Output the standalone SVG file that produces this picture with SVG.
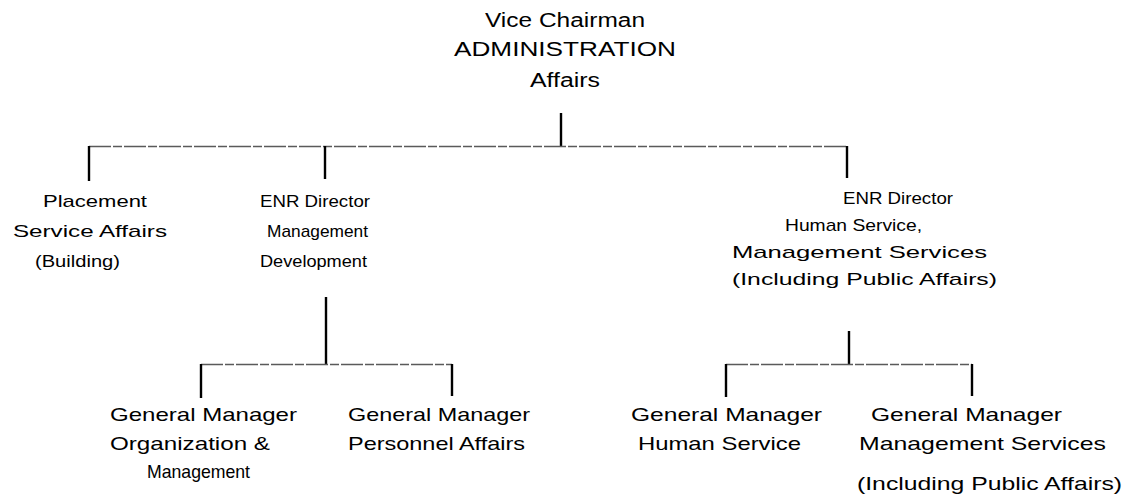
<svg xmlns="http://www.w3.org/2000/svg" width="1130" height="504" viewBox="0 0 1130 504">
  <style>
    text { font-family: "Liberation Sans", Arial, sans-serif; fill: #000; }
    .t0 { font-size: 20px; text-anchor: middle; }
    .t1 { font-size: 17px; }
    .t2 { font-size: 18.5px; }
    .h { stroke: #5a5a5a; stroke-width: 1.3; fill: none; stroke-dasharray: 22 2 9 2; }
    .v { stroke: #000; stroke-width: 2.4; fill: none; }
  </style>
  <rect width="1130" height="504" fill="#fff"/>

  <g id="connectors">
    <!-- from the Vice Chairman down to the three divisions -->
    <line class="v" x1="561" y1="113" x2="561" y2="146"/>
    <line class="h" x1="89" y1="146.5" x2="847" y2="146.5"/>
    <line class="v" x1="89" y1="146" x2="89" y2="181"/>
    <line class="v" x1="325" y1="146" x2="325" y2="179"/>
    <line class="v" x1="847" y1="146" x2="847" y2="178"/>
    <!-- Management Development branch -->
    <line class="v" x1="326" y1="297" x2="326" y2="365"/>
    <line class="h" x1="201" y1="364.5" x2="452" y2="364.5"/>
    <line class="v" x1="201" y1="364" x2="201" y2="398"/>
    <line class="v" x1="452" y1="364" x2="452" y2="396"/>
    <!-- Human Service / Management Services branch -->
    <line class="v" x1="849" y1="331" x2="849" y2="365"/>
    <line class="h" x1="726" y1="364.5" x2="972" y2="364.5"/>
    <line class="v" x1="726" y1="364" x2="726" y2="397"/>
    <line class="v" x1="972" y1="364" x2="972" y2="396"/>
  </g>

  <g id="vice-chairman">
    <text class="t0" x="565" y="27" textLength="160" lengthAdjust="spacingAndGlyphs">Vice Chairman</text>
    <text class="t0" x="565" y="56" textLength="222" lengthAdjust="spacingAndGlyphs">ADMINISTRATION</text>
    <text class="t0" x="565" y="87" textLength="70" lengthAdjust="spacingAndGlyphs">Affairs</text>
  </g>

  <g id="placement-service">
    <text class="t1" x="43" y="207" textLength="104" lengthAdjust="spacingAndGlyphs">Placement</text>
    <text class="t1" x="13" y="237" textLength="154" lengthAdjust="spacingAndGlyphs">Service Affairs</text>
    <text class="t1" x="35" y="267" textLength="85" lengthAdjust="spacingAndGlyphs">(Building)</text>
  </g>

  <g id="enr-management-development">
    <text class="t1" x="260" y="207" textLength="110" lengthAdjust="spacingAndGlyphs">ENR Director</text>
    <text class="t1" x="267" y="237" textLength="101" lengthAdjust="spacingAndGlyphs">Management</text>
    <text class="t1" x="260" y="267" textLength="107" lengthAdjust="spacingAndGlyphs">Development</text>
  </g>

  <g id="enr-human-management-services">
    <text class="t1" x="843" y="204" textLength="110" lengthAdjust="spacingAndGlyphs">ENR Director</text>
    <text class="t1" x="785" y="231" textLength="137" lengthAdjust="spacingAndGlyphs">Human Service,</text>
    <text class="t1" x="732" y="258" textLength="255" lengthAdjust="spacingAndGlyphs">Management Services</text>
    <text class="t1" x="732" y="285" textLength="265" lengthAdjust="spacingAndGlyphs">(Including Public Affairs)</text>
  </g>

  <g id="gm-organization-management">
    <text class="t2" x="110" y="421" textLength="187" lengthAdjust="spacingAndGlyphs">General Manager</text>
    <text class="t2" x="110" y="450" textLength="160" lengthAdjust="spacingAndGlyphs">Organization &amp;</text>
    <text class="t2" x="147" y="478" textLength="103" lengthAdjust="spacingAndGlyphs">Management</text>
  </g>

  <g id="gm-personnel-affairs">
    <text class="t2" x="348" y="421" textLength="182" lengthAdjust="spacingAndGlyphs">General Manager</text>
    <text class="t2" x="348" y="450" textLength="177" lengthAdjust="spacingAndGlyphs">Personnel Affairs</text>
  </g>

  <g id="gm-human-service">
    <text class="t2" x="631" y="421" textLength="191" lengthAdjust="spacingAndGlyphs">General Manager</text>
    <text class="t2" x="638" y="450" textLength="163" lengthAdjust="spacingAndGlyphs">Human Service</text>
  </g>

  <g id="gm-management-services">
    <text class="t2" x="871" y="421" textLength="191" lengthAdjust="spacingAndGlyphs">General Manager</text>
    <text class="t2" x="859" y="450" textLength="247" lengthAdjust="spacingAndGlyphs">Management Services</text>
    <text class="t2" x="857" y="490" textLength="265" lengthAdjust="spacingAndGlyphs">(Including Public Affairs)</text>
  </g>
</svg>
